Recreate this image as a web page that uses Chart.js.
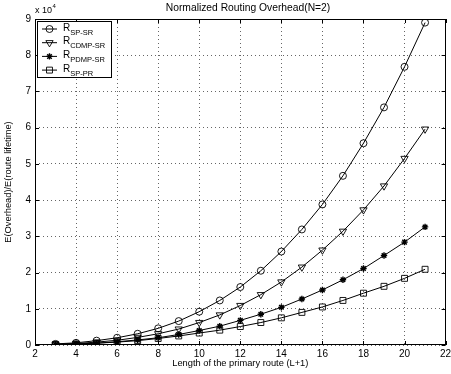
<!DOCTYPE html>
<html>
<head>
<meta charset="utf-8">
<script src="https://cdn.jsdelivr.net/npm/chart.js@4/dist/chart.umd.min.js"></script>
<style>
html,body{margin:0;padding:0;background:#fff;}
canvas{display:block;}
</style>
</head>
<body>
<canvas id="c" width="451" height="374"></canvas>
<script>
// Data (y values in units of 10^4)
const xValues = [3,4,5,6,7,8,9,10,11,12,13,14,15,16,17,18,19,20,21];
const spSr   = [0.03,0.06,0.12,0.20,0.31,0.46,0.66,0.92,1.23,1.60,2.05,2.58,3.19,3.88,4.67,5.57,6.56,7.68,8.90];
const cdmpSr = [0.02,0.04,0.08,0.13,0.21,0.31,0.44,0.62,0.83,1.09,1.39,1.74,2.15,2.62,3.14,3.73,4.39,5.15,5.96];
const pdmpSr = [0.015,0.03,0.05,0.09,0.14,0.20,0.29,0.40,0.52,0.68,0.85,1.04,1.27,1.52,1.80,2.11,2.47,2.84,3.26];
const spPr   = [0.015,0.03,0.05,0.08,0.12,0.18,0.25,0.33,0.41,0.51,0.62,0.75,0.90,1.05,1.23,1.43,1.62,1.84,2.09];
const seriesNames = ['R', 'R', 'R', 'R'];
const seriesSubs = ['SP-SR', 'CDMP-SR', 'PDMP-SR', 'SP-PR'];
const titleText = 'Normalized Routing Overhead(N=2)';
const xTitle = 'Length of the primary route (L+1)';
const yTitle = 'E(Overhead)/E(route lifetime)';
const xTickValues = [2,4,6,8,10,12,14,16,18,20,22];
const yTickValues = [0,1,2,3,4,5,6,7,8,9];
const exponentLabel = 'x 10';
const exponentPower = '4';

const FONT = 'Liberation Sans, Arial, Helvetica, sans-serif';
const markerStyles = [
  {pointStyle:'circle', radius:3.5, rotation:0, fill:'rgba(0,0,0,0)'},
  {pointStyle:'triangle', radius:4.2, rotation:180, fill:'rgba(0,0,0,0)'},
  {pointStyle:'star', radius:3.2, rotation:0, fill:'#000'},
  {pointStyle:'rect', radius:4.2, rotation:0, fill:'rgba(0,0,0,0)'}
];
const allSeries = [spSr, cdmpSr, pdmpSr, spPr];

const datasets = allSeries.map((s, i) => ({
  label: seriesNames[i] + seriesSubs[i],
  data: xValues.map((x, j) => ({x: x, y: s[j]})),
  borderColor: '#000',
  borderWidth: 1,
  backgroundColor: markerStyles[i].fill,
  pointStyle: markerStyles[i].pointStyle,
  pointRadius: markerStyles[i].radius,
  pointRotation: markerStyles[i].rotation,
  pointBorderColor: '#000',
  pointBackgroundColor: markerStyles[i].fill,
  pointBorderWidth: i === 2 ? 1.4 : 0.9,
  tension: 0,
  fill: false
}));

const boxPlugin = {
  id: 'matlabBox',
  afterDatasetsDraw(chart) {
    const {ctx, chartArea: a, scales} = chart;
    ctx.save();
    ctx.strokeStyle = '#000';
    ctx.lineWidth = 1;
    ctx.strokeRect(Math.round(a.left)+0.5, Math.round(a.top)+0.5, Math.round(a.right-a.left)-1, Math.round(a.bottom-a.top)-1);
    ctx.beginPath();
    const tl = 4;
    xTickValues.forEach(v => {
      const px = Math.round(scales.x.getPixelForValue(v)) + 0.5;
      ctx.moveTo(px, a.bottom); ctx.lineTo(px, a.bottom - tl);
      ctx.moveTo(px, a.top); ctx.lineTo(px, a.top + tl);
    });
    yTickValues.forEach(v => {
      const py = Math.round(scales.y.getPixelForValue(v)) + 0.5;
      ctx.moveTo(a.left, py); ctx.lineTo(a.left + tl, py);
      ctx.moveTo(a.right, py); ctx.lineTo(a.right - tl, py);
    });
    ctx.stroke();

    // legend
    const lx = 37, ly = 21, lw = 74, lh = 56;
    ctx.fillStyle = '#fff';
    ctx.fillRect(lx, ly, lw, lh);
    ctx.strokeStyle = '#000';
    ctx.lineWidth = 1;
    ctx.strokeRect(lx + 0.5, ly + 0.5, lw, lh);
    for (let i = 0; i < 4; i++) {
      const y = 29 + i * 13.7;
      ctx.beginPath();
      ctx.strokeStyle = '#000';
      ctx.lineWidth = 1;
      ctx.moveTo(42, y); ctx.lineTo(57, y);
      ctx.stroke();
      ctx.fillStyle = markerStyles[i].fill;
      ctx.lineWidth = i === 2 ? 1.4 : 0.9;
      Chart.helpers.drawPoint(ctx, {pointStyle: markerStyles[i].pointStyle, radius: markerStyles[i].radius, rotation: markerStyles[i].rotation, borderWidth: 1}, 49.5, y);
      ctx.fillStyle = '#000';
      ctx.textBaseline = 'middle';
      ctx.textAlign = 'left';
      ctx.font = '10px ' + FONT;
      ctx.fillText(seriesNames[i], 63, y - 1);
      const w = ctx.measureText(seriesNames[i]).width;
      ctx.font = '7.5px ' + FONT;
      ctx.fillText(seriesSubs[i], 63 + w, y + 3.5);
    }

    // title
    ctx.fillStyle = '#000';
    ctx.textAlign = 'center';
    ctx.textBaseline = 'middle';
    ctx.font = '10.3px ' + FONT;
    ctx.fillText(titleText, 248, 8);
    // exponent
    ctx.textAlign = 'left';
    ctx.font = '9px ' + FONT;
    ctx.fillText(exponentLabel, 35, 11);
    const ew = ctx.measureText(exponentLabel).width;
    ctx.font = '6px ' + FONT;
    ctx.fillText(exponentPower, 35 + ew + 0.5, 6);
    ctx.restore();
  }
};

new Chart(document.getElementById('c'), {
  type: 'line',
  data: {datasets},
  options: {
    responsive: false,
    devicePixelRatio: 1,
    animation: false,
    layout: {padding: {top: 19, right: 1, bottom: 0, left: 0}},
    plugins: {legend: {display: false}, title: {display: false}, tooltip: {enabled: false}},
    scales: {
      x: {
        type: 'linear',
        min: 2, max: 22,
        afterBuildTicks: (s) => { s.ticks = xTickValues.map(v => ({value: v})); },
        afterFit: (s) => { s.height = 29; s.paddingLeft = 0; s.paddingRight = 0; },
        ticks: {color: '#000', font: {family: FONT, size: 10}, padding: 3, maxRotation: 0, autoSkip: false},
        grid: {color: '#666', lineWidth: 1, drawTicks: false},
        border: {display: false, dash: [1, 3]},
        title: {display: true, text: xTitle, color: '#000', font: {family: FONT, size: 9.3}, padding: {top: 0, bottom: 5}}
      },
      y: {
        type: 'linear',
        min: 0, max: 9,
        afterBuildTicks: (s) => { s.ticks = yTickValues.map(v => ({value: v})); },
        afterFit: (s) => { s.width = 35; s.paddingTop = 0; s.paddingBottom = 0; },
        ticks: {color: '#000', font: {family: FONT, size: 10}, padding: 4, autoSkip: false},
        grid: {color: '#666', lineWidth: 1, drawTicks: false},
        border: {display: false, dash: [1, 3]},
        title: {display: true, text: yTitle, color: '#000', font: {family: FONT, size: 9.3}, padding: {top: 3, bottom: 0}}
      }
    }
  },
  plugins: [boxPlugin]
});
</script>
</body>
</html>
